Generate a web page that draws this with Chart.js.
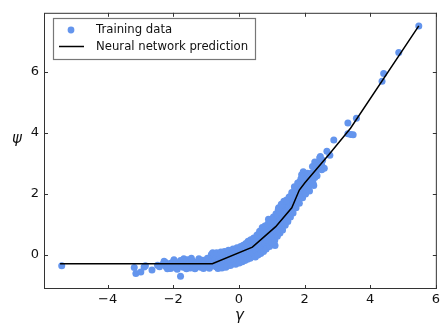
<!DOCTYPE html>
<html>
<head>
<meta charset="utf-8">
<script src="https://cdn.jsdelivr.net/npm/chart.js@4.4.1/dist/chart.umd.min.js"></script>
<style>
  html, body { margin: 0; padding: 0; background: #fff; }
  #wrap { width: 443px; height: 324px; }
</style>
</head>
<body>
<div id="wrap"><canvas id="fit"></canvas></div>
<script>
// training data
const trainX = [
  -5.40, -3.19, -3.14, -2.99, -2.89, -2.85, -2.65, -2.48, -2.42, -2.23, -2.13, -2.08,
  -2.32, -2.25, -2.22, -2.15, -2.12, -2.08, -2.03, -2.00, -1.95, -1.92, -1.86, -1.82,
  -1.78, -1.78, -1.74, -1.70, -1.66, -1.62, -1.57, -1.55, -1.52, -1.48, -1.44, -1.40,
  -1.36, -1.32, -1.28, -1.25, -1.20, -1.17, -1.13, -1.10, -1.06, -1.02, -0.98, -0.95,
  -0.92, -0.88, -0.85, -0.82,
  -2.28, -2.18, -1.98, -1.88, -1.68, -1.60, -1.45, -1.34, -1.22, -1.08, -0.96, -0.90,
  -0.84, -0.80,
  -0.78, -0.75, -0.72, -0.70, -0.66, -0.62, -0.60, -0.57, -0.54, -0.50, -0.48, -0.45,
  -0.42, -0.40, -0.37, -0.34, -0.30, -0.28, -0.25, -0.22, -0.20, -0.17, -0.14, -0.12,
  -0.08, -0.05, -0.02, 0.00, 0.03, 0.06, 0.08, 0.11, 0.14, 0.16, 0.19, 0.22,
  0.24, 0.27, 0.30, 0.32, 0.35, 0.38, 0.40,
  -0.76, -0.68, -0.64, -0.55, -0.52, -0.44, -0.36, -0.32, -0.26, -0.18, -0.10, -0.06,
  0.01, 0.05, 0.10, 0.13, 0.18, 0.21, 0.26, 0.28, 0.34, 0.36, 0.39,
  0.42, 0.44, 0.47, 0.49, 0.52, 0.54, 0.57, 0.59, 0.62, 0.64, 0.66, 0.68,
  0.70, 0.72, 0.74, 0.76, 0.78, 0.80, 0.82, 0.85, 0.87, 0.89, 0.90, 0.92,
  0.94, 0.96, 0.98, 1.00, 1.02, 1.04, 1.06, 1.08, 1.10, 1.10, 1.12, 1.14,
  0.45, 0.50, 0.55, 0.58, 0.63, 0.67, 0.71, 0.75, 0.79, 0.83, 0.88, 0.93,
  0.97, 1.01, 1.05, 1.09, 1.13,
  1.16, 1.18, 1.20, 1.22, 1.24, 1.26, 1.28, 1.30, 1.30, 1.32, 1.35, 1.36,
  1.38, 1.40, 1.42, 1.44, 1.46, 1.48, 1.50, 1.52, 1.54, 1.56, 1.58, 1.60,
  1.62, 1.64, 1.66, 1.68, 1.70, 1.71, 1.73, 1.75, 1.76, 1.78, 1.80, 1.81,
  1.83, 1.85, 1.86, 1.88, 1.90, 1.91, 1.91, 1.93, 1.96, 1.97, 1.99,
  1.17, 1.21, 1.25, 1.29, 1.33, 1.37, 1.41, 1.45, 1.49, 1.53, 1.57, 1.61,
  1.65, 1.69, 1.74, 1.79, 1.84, 1.89, 1.94, 1.98,
  2.01, 2.01, 2.04, 2.06, 2.08, 2.11, 2.11, 2.13, 2.16, 2.19, 2.21, 2.23,
  2.26, 2.29, 2.30, 2.31, 2.31, 2.35, 2.42, 2.45, 2.48, 2.52, 2.52, 2.60,
  2.03, 2.09, 2.15, 2.24, 2.28, 2.38, 2.55, 2.46,
  2.68, 2.77, 2.89, 3.32, 3.32, 3.41, 3.48, 3.58, 4.36, 4.41, 4.87, 5.48
];
const trainY = [
  -0.35, -0.41, -0.60, -0.55, -0.39, -0.35, -0.49, -0.33, -0.38, -0.25, -0.39, -0.44,
  -0.30, -0.24, -0.38, -0.33, -0.42, -0.27, -0.36, -0.22, -0.40, -0.31, -0.26, -0.35,
  -0.18, -0.69, -0.29, -0.40, -0.22, -0.33, -0.15, -0.37, -0.26, -0.42, -0.30, -0.20,
  -0.35, -0.27, -0.38, -0.22, -0.31, -0.40, -0.25, -0.17, -0.34, -0.28, -0.38, -0.20,
  -0.30, -0.24, -0.36, -0.16,
  -0.20, -0.45, -0.15, -0.46, -0.12, -0.45, -0.10, -0.45, -0.12, -0.44, -0.10, -0.43,
  0.02, 0.08,
  -0.30, -0.22, -0.12, -0.38, -0.26, -0.17, -0.33, -0.08, -0.24, -0.14, -0.35, -0.20,
  -0.05, -0.40, -0.12, -0.27, -0.02, -0.18, -0.08, -0.30, 0.02, -0.13, -0.22, 0.06,
  -0.05, -0.18, 0.10, 0.00, -0.12, 0.14, 0.04, -0.08, 0.18, 0.08, -0.04, 0.22,
  0.12, 0.02, 0.27, 0.16, 0.06, 0.30, 0.20,
  0.04, 0.08, -0.44, 0.10, -0.42, 0.12, -0.36, 0.16, -0.34, 0.20, -0.30, 0.24,
  -0.26, 0.28, -0.22, 0.32, -0.18, 0.38, -0.14, 0.45, -0.10, 0.50, -0.05,
  0.08, 0.38, 0.25, 0.50, 0.14, 0.33, 0.58, 0.22, 0.42, 0.70, 0.05, 0.30,
  0.55, 0.80, 0.45, 0.18, 0.62, 0.38, 0.72, 0.50, 0.28, 0.85, 1.17, 0.62,
  0.45, 0.78, 0.95, 0.58, 0.70, 1.05, 0.85, 0.55, 0.31, 1.00, 1.20, 0.75,
  0.56, -0.06, 0.66, 0.00, 0.78, 0.08, 0.90, 0.12, 0.95, 0.20, 1.02, 0.28,
  1.10, 0.40, 1.25, 0.48, 1.35,
  0.95, 1.30, 1.50, 0.82, 1.12, 1.40, 0.98, 1.60, 0.85, 1.25, 1.23, 1.48,
  1.08, 1.35, 1.62, 1.18, 1.45, 1.75, 1.30, 1.58, 1.85, 1.40, 1.68, 1.95,
  1.50, 1.78, 1.66, 2.05, 1.60, 2.19, 1.90, 2.12, 1.87, 2.25, 2.00, 2.30,
  1.82, 2.15, 2.41, 2.05, 2.32, 1.98, 2.63, 2.20, 2.73, 2.42, 2.10,
  0.62, 1.55, 0.72, 1.66, 0.82, 1.76, 0.98, 1.80, 1.10, 1.90, 1.25, 2.05,
  1.38, 2.24, 1.55, 2.36, 1.70, 2.50, 1.88, 2.60,
  2.22, 2.35, 2.50, 2.18, 2.38, 2.14, 2.41, 2.60, 2.30, 2.63, 2.68, 2.45,
  2.35, 2.89, 2.55, 3.05, 2.54, 2.75, 3.00, 2.85, 3.23, 2.95, 2.79, 2.84,
  2.00, 2.68, 2.10, 2.90, 2.28, 2.60, 3.10, 3.18,
  3.40, 3.27, 3.77, 4.32, 3.97, 3.95, 3.94, 4.48, 5.69, 5.94, 6.63, 7.50
];
// neural network prediction (piecewise linear)
const predX = [-5.45, -0.81, 0.41, 1.12, 1.61, 1.84, 2.01, 2.75, 3.40, 5.48];
const predY = [-0.28, -0.28, 0.26, 0.93, 1.55, 2.13, 2.37, 3.30, 4.15, 7.50];

const xTicks = [-4, -2, 0, 2, 4, 6];
const yTicks = [0, 2, 4, 6];

const FRAME = '#333';
const FONT = 'DejaVu Sans';

function fmt(v) {
  return v < 0 ? '\u2212' + Math.abs(v) : String(v);
}

const frameAndText = {
  id: 'frameAndText',
  afterDraw(chart) {
    const { ctx, chartArea: a, scales } = chart;
    ctx.save();
    // frame
    ctx.strokeStyle = FRAME;
    ctx.lineWidth = 1;
    ctx.strokeRect(a.left + 0.5, a.top + 0.5, a.right - a.left - 1, a.bottom - a.top - 1);
    // inward ticks on all sides
    const tl = 4;
    ctx.beginPath();
    xTicks.forEach(v => {
      const x = Math.round(scales.x.getPixelForValue(v)) + 0.5;
      ctx.moveTo(x, a.bottom); ctx.lineTo(x, a.bottom - tl);
      ctx.moveTo(x, a.top); ctx.lineTo(x, a.top + tl);
    });
    yTicks.forEach(v => {
      const y = Math.round(scales.y.getPixelForValue(v)) + 0.5;
      ctx.moveTo(a.left, y); ctx.lineTo(a.left + tl, y);
      ctx.moveTo(a.right, y); ctx.lineTo(a.right - tl, y);
    });
    ctx.stroke();

    // axis titles
    ctx.fillStyle = '#111';
    ctx.font = 'italic 15px "' + FONT + '"';
    ctx.textAlign = 'center';
    ctx.textBaseline = 'middle';
    ctx.fillText('\u03c8', 17, 139);
    ctx.textBaseline = 'alphabetic';
    ctx.fillText('\u03b3', (a.left + a.right) / 2 - 1, 320);

    // legend
    const lx = 53.5, ly = 18.5, lw = 202, lh = 41;
    ctx.fillStyle = '#fff';
    ctx.fillRect(lx, ly, lw, lh);
    ctx.strokeStyle = '#777';
    ctx.lineWidth = 1.2;
    ctx.strokeRect(lx, ly, lw, lh);
    ctx.fillStyle = '#6495ed';
    ctx.beginPath();
    ctx.arc(71, 30, 3.4, 0, Math.PI * 2);
    ctx.fill();
    ctx.strokeStyle = '#000';
    ctx.lineWidth = 1.5;
    ctx.beginPath();
    ctx.moveTo(59, 46.5); ctx.lineTo(84, 46.5);
    ctx.stroke();
    ctx.fillStyle = '#111';
    ctx.font = '11.7px "' + FONT + '"';
    ctx.textAlign = 'left';
    ctx.textBaseline = 'middle';
    ctx.fillText('Training data', 96, 29.5);
    ctx.fillText('Neural network prediction', 96, 46.5);
    ctx.restore();
  }
};

const trainPts = trainX.map((x, i) => ({ x, y: trainY[i] }));
const predPts = predX.map((x, i) => ({ x, y: predY[i] }));

new Chart(document.getElementById('fit'), {
  type: 'scatter',
  data: {
    datasets: [
      {
        label: 'Neural network prediction',
        data: predPts,
        showLine: true,
        borderColor: '#000',
        borderWidth: 1.5,
        pointRadius: 0,
        order: 0,
      },
      {
        label: 'Training data',
        data: trainPts,
        backgroundColor: '#6495ed',
        borderWidth: 0,
        pointRadius: 3.5,
        pointHoverRadius: 3.5,
        order: 1,
      },
    ],
  },
  options: {
    responsive: true,
    maintainAspectRatio: false,
    animation: false,
    events: [],
    layout: { padding: { left: 0, right: 4.3, top: 9, bottom: 0 } },
    plugins: { legend: { display: false }, tooltip: { enabled: false } },
    scales: {
      x: {
        type: 'linear',
        min: -5.94,
        max: 6.03,
        afterBuildTicks: (s) => { s.ticks = xTicks.map(v => ({ value: v })); },
        afterFit: (s) => { s.height = 35; },
        grid: { display: false, drawTicks: false },
        border: { display: false },
        ticks: {
          color: '#111',
          font: { family: FONT, size: 13 },
          padding: 3,
          maxRotation: 0,
          callback: (v) => fmt(v),
        },
      },
      y: {
        type: 'linear',
        min: -1.11,
        max: 7.93,
        afterBuildTicks: (s) => { s.ticks = yTicks.map(v => ({ value: v })); },
        afterFit: (s) => { s.width = 44; },
        grid: { display: false, drawTicks: false },
        border: { display: false },
        ticks: {
          color: '#111',
          font: { family: FONT, size: 13 },
          padding: 5,
          callback: (v) => fmt(v),
        },
      },
    },
  },
  plugins: [frameAndText],
});
</script>
</body>
</html>
